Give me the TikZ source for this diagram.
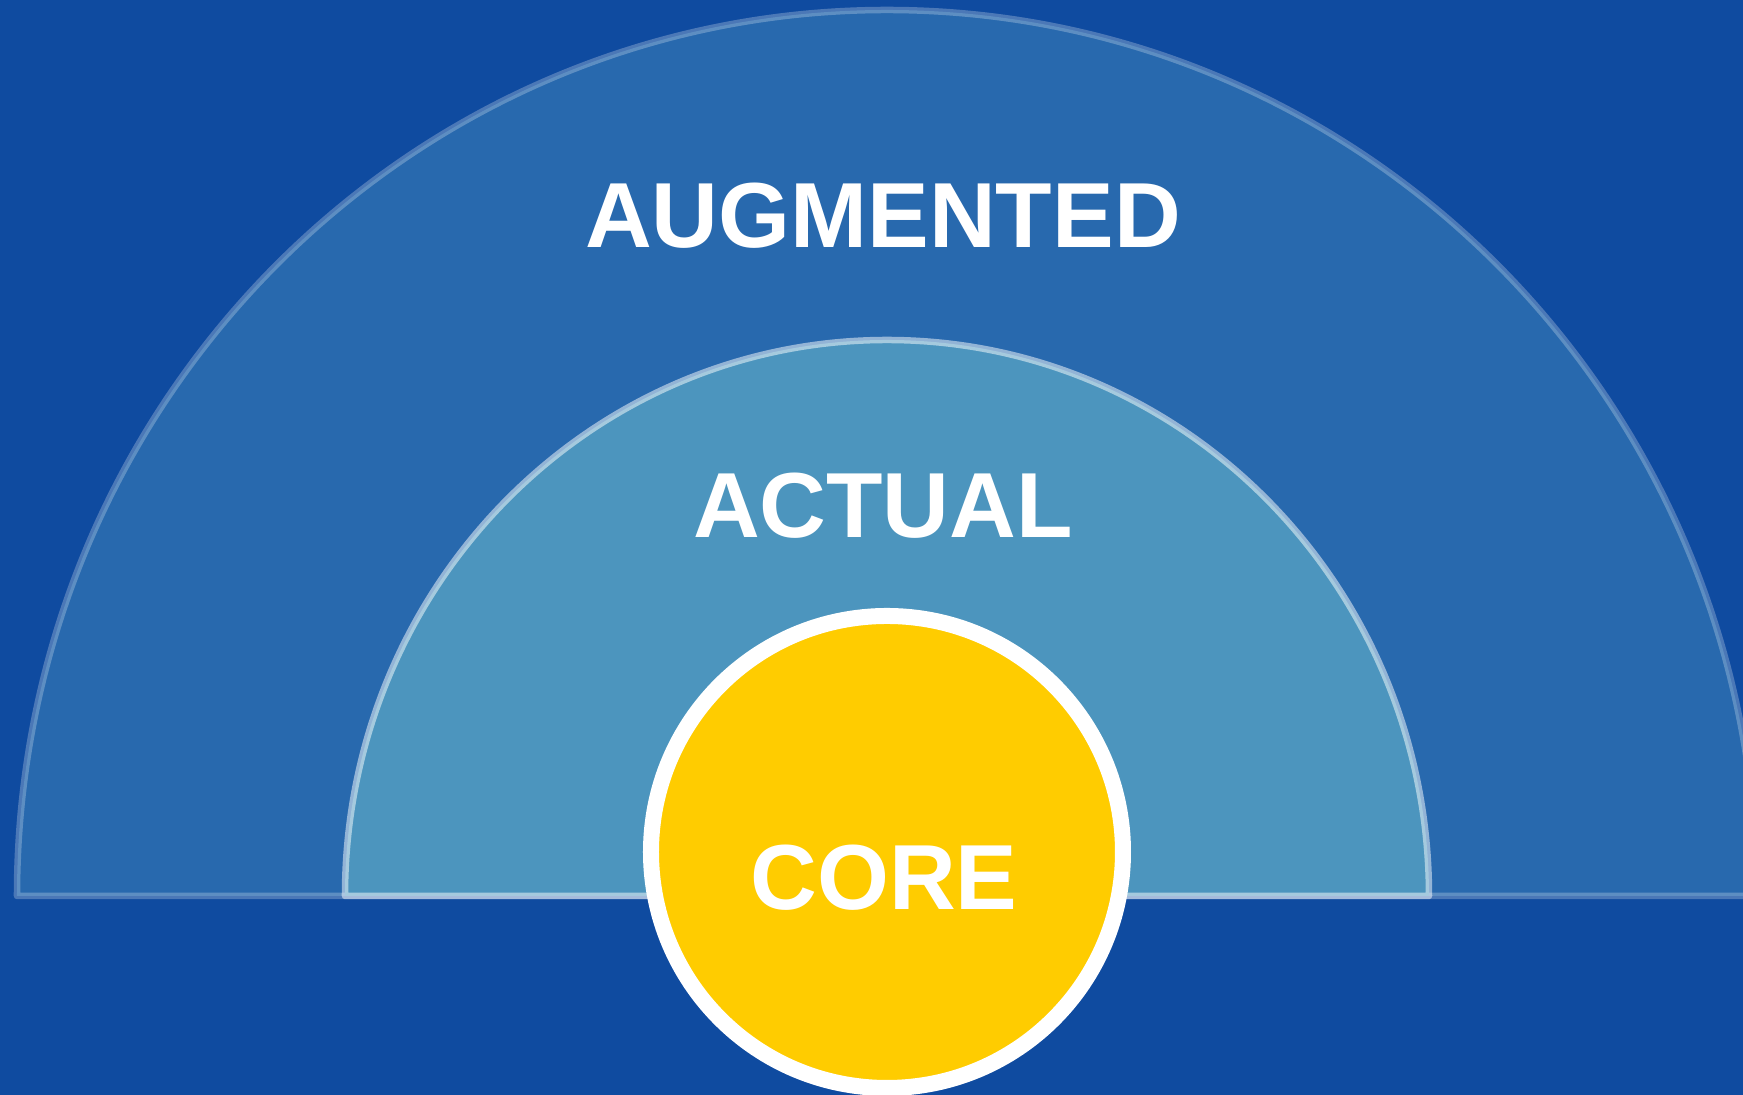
\documentclass[tikz,border=0pt]{standalone}
\usepackage{fontspec}
\setmainfont{Liberation Sans}
\usetikzlibrary{calc}

\definecolor{bgblue}{RGB}{15,75,160}
\definecolor{augblue}{RGB}{40,105,174}
\definecolor{actblue}{RGB}{76,149,190}
\definecolor{coreyellow}{RGB}{255,204,0}

\begin{document}
\begin{tikzpicture}[
  layer/.style={line width=0.065cm,line join=round},
  lbl/.style={text=white,font=\fontsize{26.3pt}{30pt}\selectfont\bfseries,anchor=base,inner sep=0pt}
]
\useasboundingbox (-8.87,-1.99) rectangle (8.56,8.96);
\fill[bgblue] (-8.87,-1.99) rectangle (8.56,8.96);

\begin{scope}
\draw[layer,fill=augblue,draw=white,draw opacity=0.25] (-8.70,0) arc[start angle=180,end angle=0,x radius=8.70,y radius=8.86] -- cycle;
\node (augmented) at (-0.04,6.48)[lbl]{AUGMENTED};
\end{scope}

\begin{scope}
\draw[layer,fill=actblue,draw=white,draw opacity=0.5] (-5.42,0) arc[start angle=180,end angle=0,x radius=5.42,y radius=5.56] -- cycle;
\node (actual) at (-0.04,3.58)[lbl]{ACTUAL};
\end{scope}

\node (corecircle) at (0,0.44)[circle,fill=coreyellow,draw=white,line width=0.16cm,minimum size=4.72cm,inner sep=0pt]{};
\node (core) at (-0.03,-0.14)[lbl]{CORE};
\end{tikzpicture}
\end{document}
